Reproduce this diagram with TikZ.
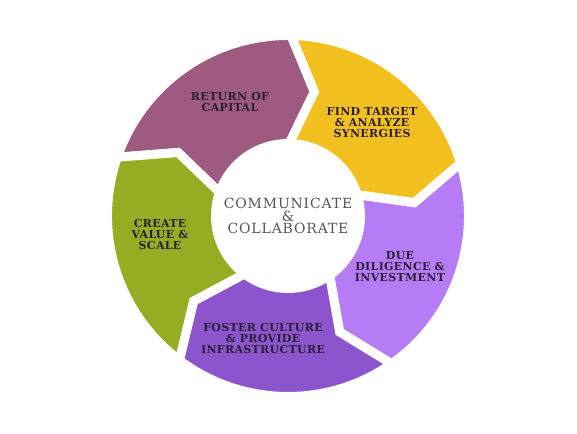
\documentclass[tikz,border=0pt]{standalone}
\usepackage{fontspec}
\setmainfont{DejaVu Serif}
\usetikzlibrary{positioning}
\definecolor{retmauve}{HTML}{9E5A80}
\definecolor{findyellow}{HTML}{F2C01F}
\definecolor{duelilac}{HTML}{B67CF6}
\definecolor{fosterpurple}{HTML}{8D55CD}
\definecolor{creategreen}{HTML}{95AD23}
\definecolor{labelink}{HTML}{2A1F33}
\definecolor{hubgrey}{HTML}{555555}

\begin{document}
\begin{tikzpicture}[
  x=1pt, y=1pt,
  segment/.style={draw=white, line width=9pt, line join=miter},
  steplabel/.style={font=\bfseries\fontsize{11}{11}\selectfont\addfontfeature{LetterSpace=3}, text=labelink, align=center, inner sep=0pt},
  hub/.style={font=\fontsize{14}{12.5}\selectfont\addfontfeature{LetterSpace=6}, text=hubgrey, align=center, inner sep=0pt}
]
\useasboundingbox (0,0) rectangle (577,433);
\coordinate (c) at (288,217);

\begin{scope}[shift={(c)}]
\filldraw[segment, fill=retmauve] (161:180.5pt) arc[start angle=161, end angle=89, radius=180.5pt] -- (78:127pt) -- (89:72.5pt) arc[start angle=89, end angle=161, radius=72.5pt] -- (150:127pt) -- cycle;
\filldraw[segment, fill=findyellow] (89:180.5pt) arc[start angle=89, end angle=17, radius=180.5pt] -- (6:127pt) -- (17:72.5pt) arc[start angle=17, end angle=89, radius=72.5pt] -- (78:127pt) -- cycle;
\filldraw[segment, fill=duelilac] (17:180.5pt) arc[start angle=17, end angle=-55, radius=180.5pt] -- (-66:127pt) -- (-55:72.5pt) arc[start angle=-55, end angle=17, radius=72.5pt] -- (6:127pt) -- cycle;
\filldraw[segment, fill=fosterpurple] (-55:180.5pt) arc[start angle=-55, end angle=-127, radius=180.5pt] -- (-138:127pt) -- (-127:72.5pt) arc[start angle=-127, end angle=-55, radius=72.5pt] -- (-66:127pt) -- cycle;
\filldraw[segment, fill=creategreen] (233:180.5pt) arc[start angle=233, end angle=161, radius=180.5pt] -- (150:127pt) -- (161:72.5pt) arc[start angle=161, end angle=233, radius=72.5pt] -- (222:127pt) -- cycle;
\end{scope}

\node[hub] (collab) at (c) {COMMUNICATE\\\&\\COLLABORATE};
\node[steplabel] (ret) at (230,331) {RETURN OF\\CAPITAL};
\node[steplabel] (find) at (372,310) {FIND TARGET\\\& ANALYZE\\SYNERGIES};
\node[steplabel] (due) at (400,166) {DUE\\DILIGENCE \&\\INVESTMENT};
\node[steplabel] (foster) at (263,95) {FOSTER CULTURE\\\& PROVIDE\\INFRASTRUCTURE};
\node[steplabel] (create) at (160,199) {CREATE\\VALUE \&\\SCALE};
\end{tikzpicture}
\end{document}
